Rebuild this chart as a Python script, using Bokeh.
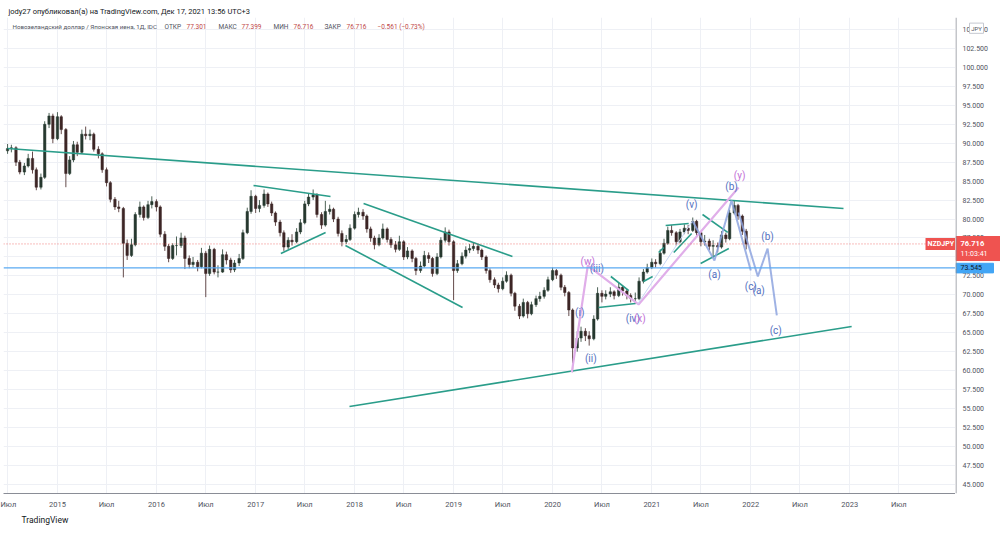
import pandas as pd
from bokeh.plotting import figure
from bokeh.layouts import row
from bokeh.models import Range1d, FixedTicker, Span, Label, ColumnDataSource, Title
from bokeh.core.properties import value
from bokeh.embed import file_html
from bokeh.resources import INLINE

# ---------------- data (semi-monthly candles) ----------------
first_open = 89.0
closes = [
    89.3, 89.4, 87.5, 86.2, 87.0, 88.0, 86.5, 84.2, 85.5, 92.5, 93.6, 90.6,
    93.5, 91.8, 86.0, 87.8, 89.8, 88.8, 91.2, 91.0, 91.2, 89.2, 88.6, 86.5,
    84.8, 82.6, 81.6, 81.4, 76.8, 75.2, 76.6, 80.6, 81.6, 80.2, 81.9, 82.3,
    81.6, 78.0, 76.4, 74.8, 76.5, 76.5, 77.5, 74.8, 74.0, 74.3, 73.7, 75.5,
    72.8, 76.0, 73.0, 73.0, 75.3, 74.6, 73.3, 74.2, 74.8, 78.2, 81.0, 83.0,
    81.4, 81.8, 83.3, 82.0, 80.8, 79.6, 78.2, 76.3, 77.2, 77.0, 78.3, 79.5,
    82.0, 82.9, 83.2, 80.6, 79.2, 81.0, 81.3, 80.0, 78.1, 77.0, 77.3, 78.8,
    80.6, 80.9, 80.4, 78.7, 77.5, 76.6, 77.5, 78.7, 77.3, 76.6, 76.0, 77.0,
    75.0, 75.8, 74.8, 73.2, 73.8, 75.2, 74.8, 72.8, 75.0, 77.2, 78.3, 77.0,
    73.2, 74.1, 75.1, 75.9, 76.1, 76.4, 75.9, 75.0, 73.2, 72.0, 71.3, 70.8,
    71.8, 72.6, 70.2, 68.5, 67.2, 69.0, 67.5, 68.7, 69.5, 69.8, 70.6, 72.0,
    73.2, 72.6, 71.0, 70.3, 68.0, 63.0, 64.3, 65.2, 64.6, 64.2, 66.8, 70.2,
    69.8, 70.1, 70.4, 69.9, 71.0, 70.5, 69.9, 69.5, 69.5, 71.8, 73.0, 73.6,
    74.3, 74.1, 75.5, 76.8, 78.5, 78.2, 77.0, 78.3, 78.8, 78.5, 79.7, 78.2,
    77.0, 77.1, 76.4, 76.5, 76.3, 77.9, 77.4, 80.8, 81.8, 80.4, 78.4, 76.7,
]
highs = [
    89.9, 89.8, 89.6, 87.8, 87.4, 88.6, 88.9, 86.8, 86.0, 92.9, 94.0, 93.9,
    94.1, 93.7, 92.0, 88.3, 90.3, 90.2, 91.8, 92.2, 91.8, 91.4, 89.6, 88.8,
    86.8, 85.0, 82.9, 82.4, 81.6, 77.3, 77.4, 80.9, 82.3, 81.8, 82.4, 83.0,
    82.6, 81.8, 78.4, 76.7, 76.8, 77.7, 78.2, 77.8, 75.2, 75.0, 74.6, 76.2,
    75.8, 76.5, 76.2, 73.9, 76.0, 75.7, 74.9, 74.6, 75.4, 78.6, 81.5, 83.8,
    83.2, 82.5, 83.9, 83.5, 82.3, 81.0, 79.9, 78.5, 77.6, 78.0, 78.8, 80.0,
    82.4, 83.4, 83.9, 83.4, 80.9, 82.4, 81.9, 81.5, 80.3, 78.5, 77.9, 79.3,
    81.0, 81.5, 81.3, 80.6, 79.0, 77.8, 78.0, 79.4, 78.9, 77.6, 77.1, 77.8,
    77.2, 76.3, 76.0, 75.0, 74.4, 75.8, 75.6, 75.0, 75.5, 77.6, 78.9, 78.6,
    77.2, 74.6, 75.6, 76.4, 76.7, 76.9, 76.7, 76.1, 75.2, 73.5, 72.3, 71.6,
    72.3, 73.1, 72.8, 70.4, 68.8, 69.5, 69.2, 69.1, 69.9, 70.4, 71.0, 72.4,
    73.6, 73.4, 72.8, 71.3, 70.5, 68.2, 65.2, 65.8, 65.6, 65.2, 67.3, 71.0,
    70.6, 70.6, 71.0, 70.6, 71.6, 71.3, 70.8, 70.2, 70.3, 72.3, 73.4, 74.1,
    74.8, 74.7, 76.0, 77.4, 79.0, 79.2, 78.4, 78.7, 79.3, 79.2, 80.2, 79.9,
    78.4, 77.9, 77.4, 77.2, 76.9, 78.4, 78.2, 81.2, 82.5, 82.0, 80.6, 78.7,
]
lows = [
    88.6, 88.8, 87.0, 85.9, 85.8, 86.8, 86.0, 83.8, 83.9, 85.3, 92.0, 90.0,
    90.4, 91.2, 84.2, 85.8, 87.5, 88.3, 88.6, 90.5, 90.4, 88.9, 88.0, 86.1,
    84.3, 82.2, 81.2, 80.9, 72.3, 74.6, 75.0, 76.4, 80.2, 79.8, 80.0, 81.4,
    81.0, 77.6, 75.8, 74.3, 74.6, 75.2, 76.2, 73.4, 73.5, 73.6, 73.1, 73.5,
    69.7, 72.5, 72.7, 72.3, 72.9, 74.0, 72.9, 73.0, 73.8, 74.6, 78.0, 80.7,
    80.8, 80.9, 81.5, 81.6, 80.4, 79.1, 77.7, 75.8, 76.0, 76.5, 76.8, 78.0,
    79.3, 81.7, 82.5, 80.2, 78.7, 79.0, 80.6, 79.6, 77.7, 76.4, 76.7, 77.1,
    78.6, 80.2, 79.9, 78.2, 77.0, 76.0, 76.4, 77.3, 76.9, 76.2, 75.6, 75.8,
    74.6, 74.7, 74.3, 72.6, 72.9, 73.6, 74.2, 72.4, 72.6, 74.8, 76.9, 76.5,
    69.3, 72.9, 73.9, 74.8, 75.5, 75.8, 75.4, 74.6, 72.8, 71.6, 70.9, 70.3,
    70.6, 71.6, 69.8, 67.9, 66.8, 67.0, 66.9, 67.3, 68.4, 69.1, 69.5, 70.4,
    71.8, 72.1, 70.6, 69.8, 67.2, 59.8, 62.5, 63.8, 63.9, 63.3, 64.0, 66.6,
    69.0, 69.4, 69.7, 69.4, 69.7, 69.9, 69.4, 69.0, 68.8, 69.3, 71.5, 72.8,
    73.4, 73.6, 73.9, 75.3, 76.6, 77.8, 76.5, 76.8, 78.0, 78.0, 78.3, 77.8,
    76.4, 76.5, 75.9, 74.9, 75.6, 76.1, 76.9, 77.2, 80.6, 79.9, 77.9, 76.0,
]
first_date = "2014-07-01"
last_price = 76.716
last_time = "11:03:41"
level_price = 73.545
price_ticks = [45 + 2.5 * k for k in range(25)]
time_tick_dates = ["2014-07-01", "2015-01-01", "2015-07-01", "2016-01-01", "2016-07-01", "2017-01-01",
                   "2017-07-01", "2018-01-01", "2018-07-01", "2019-01-01", "2019-07-01",
                   "2020-01-01", "2020-07-01", "2021-01-01", "2021-07-01", "2022-01-01",
                   "2022-07-01", "2023-01-01", "2023-07-01"]
time_tick_labels = ["Июл", "2015", "Июл", "2016", "Июл", "2017", "Июл", "2018", "Июл", "2019", "Июл",
                    "2020", "Июл", "2021", "Июл", "2022", "Июл", "2023", "Июл"]

# drawings (date, price pairs)
teal_long_dates = [["2014-07-01", "2022-12-09"], ["2017-12-13", "2023-01-08"]]
teal_long_prices = [[89.3, 81.4], [55.27, 65.83]]
teal_short_dates = [
    ["2016-12-24", "2017-10-04"], ["2017-04-04", "2017-09-16"],
    ["2018-02-03", "2019-08-06"], ["2017-11-28", "2019-02-03"],
    ["2020-08-03", "2020-10-08"], ["2020-06-19", "2020-11-02"],
    ["2020-12-01", "2021-01-04"], ["2021-01-26", "2021-02-14"],
    ["2021-02-21", "2021-05-17"], ["2021-03-23", "2021-05-28"],
    ["2021-07-07", "2021-10-08"], ["2021-06-30", "2021-10-12"],
]
teal_short_prices = [
    [84.43, 82.97], [75.46, 78.23],
    [82.05, 75.06], [76.51, 68.33],
    [72.42, 70.57], [68.33, 68.86],
    [71.76, 72.42], [75.59, 76.25],
    [79.15, 79.41], [75.59, 78.09],
    [80.60, 78.23], [74.14, 76.11],
]
wxy_dates = ["2020-03-12", "2020-05-10", "2020-11-13", "2021-11-17"]
wxy_prices = [59.76, 73.87, 68.73, 84.16]
faint_dates = ["2020-11-09", "2021-06-01"]
faint_prices = [68.73, 79.81]
wave1_dates = ["2021-06-01", "2021-08-20", "2021-10-22", "2022-01-01"]
wave1_prices = [79.68, 74.53, 82.45, 73.21]
wave2_dates = ["2021-11-17", "2022-01-27", "2022-03-04", "2022-04-07"]
wave2_prices = [80.86, 72.42, 76.11, 67.28]

wave_label_text = ["(i)", "(ii)", "(iii)", "(w)", "(iv)", "(x)", "(v)", "(a)", "(b)", "(y)",
                   "(b)", "(c)", "(a)", "(c)"]
wave_label_dates = ["2020-04-10", "2020-05-21", "2020-06-12", "2020-05-10", "2020-10-23",
                    "2020-11-18", "2021-05-28", "2021-08-20", "2021-10-22", "2021-11-21",
                    "2022-03-04", "2022-01-01", "2022-01-30", "2022-04-03"]
wave_label_prices = [67.67, 61.60, 73.48, 74.40, 66.88, 66.88, 81.92, 72.68, 84.29, 85.75,
                     77.70, 71.10, 70.57, 65.30]
wave_label_kind = ["blue", "blue", "blue", "purple", "blue", "purple", "blue", "blue", "blue",
                   "purple", "blue", "blue", "blue", "blue"]

# ---------------- style ----------------
FONT = "Roboto"
BLUE_TXT = "#5470c0"
PURPLE_TXT = "#c26fd6"
TEAL = "#2a9d8a"
GRID = "#eef0f5"
AXIS_TXT = "#50535e"
AXIS_LINE = "#8a8d96"
TOP, BOTTOM = 17, 41

dates = pd.date_range(first_date, periods=len(closes), freq="SMS")
opens = [first_open] + closes[:-1]
up = [c >= o for o, c in zip(opens, closes)]
src = ColumnDataSource(dict(
    x=dates, h=highs, l=lows,
    top=[max(o, c) for o, c in zip(opens, closes)],
    bot=[min(o, c) for o, c in zip(opens, closes)],
    body=["#26382f" if u else "#3d2626" for u in up],
    wick=["#4d6257" if u else "#654c4c" for u in up],
))

yr = Range1d(43.79, 106.59)
p = figure(width=955, height=534, x_axis_type="datetime", y_axis_location=None,
           x_range=Range1d(pd.Timestamp("2014-06-16"), pd.Timestamp("2024-01-26")),
           y_range=yr, output_backend="svg", toolbar_location=None,
           min_border_left=3, min_border_right=0, min_border_top=TOP, min_border_bottom=BOTTOM)
p.background_fill_color = "white"
p.border_fill_color = "white"
p.outline_line_color = None

p.title.text = "jody27 опубликовал(а) на TradingView.com, Дек 17, 2021 13:56 UTC+3"
p.title.text_font = FONT
p.title.text_font_size = "7.5px"
p.title.text_font_style = "normal"
p.title.text_color = "#131722"
p.title.offset = 5
p.title.standoff = 3

tick_ms = [pd.Timestamp(d).value / 1e6 for d in time_tick_dates]
p.xaxis.ticker = FixedTicker(ticks=tick_ms)
p.xaxis.major_label_overrides = {t: lab for t, lab in zip(tick_ms, time_tick_labels)}
p.xgrid.ticker = FixedTicker(ticks=tick_ms)
p.ygrid.ticker = FixedTicker(ticks=price_ticks)
p.xaxis.axis_line_color = AXIS_LINE
p.xaxis.major_tick_line_color = None
p.xaxis.minor_tick_line_color = None
p.xaxis.major_tick_out = 0
p.xaxis.major_tick_in = 0
p.xaxis.major_label_text_font = FONT
p.xaxis.major_label_text_font_size = "7.5px"
p.xaxis.major_label_text_color = AXIS_TXT
p.xaxis.major_label_standoff = 6
p.grid.grid_line_color = GRID

footer = Title(text="TradingView", text_font=FONT, text_font_size="8.5px",
               text_font_style="normal", text_color="#131722", offset=18, standoff=2)
p.add_layout(footer, "below")

p.add_layout(Span(location=level_price, dimension="width", line_color="#5aaaf2", line_width=1.3))
p.add_layout(Span(location=last_price, dimension="width", line_color="#ef5350",
                  line_dash="1 2", line_alpha=0.75, line_width=1))

p.segment(x0="x", y0="h", x1="x", y1="l", line_color="wick", line_width=1, source=src)
p.vbar(x="x", width=9 * 24 * 3600 * 1000, top="top", bottom="bot",
       fill_color="body", line_color="body", line_width=0.5, source=src)

to_ts = lambda lst: [pd.Timestamp(d) for d in lst]
p.multi_line(xs=[to_ts(d) for d in teal_long_dates], ys=teal_long_prices,
             line_color=TEAL, line_width=1.6)
p.multi_line(xs=[to_ts(d) for d in teal_short_dates], ys=teal_short_prices,
             line_color=TEAL, line_width=1.6)
p.line(to_ts(wxy_dates), wxy_prices, line_color="#e0aee9", line_width=2.2)
p.line(to_ts(faint_dates), faint_prices, line_color="#c9d5f3", line_width=1)
p.line(to_ts(wave1_dates), wave1_prices, line_color="#8ea5df", line_width=2, line_alpha=0.85)
p.line(to_ts(wave2_dates), wave2_prices, line_color="#8ea5df", line_width=2, line_alpha=0.85)

lab_src = ColumnDataSource(dict(
    x=to_ts(wave_label_dates), y=wave_label_prices, t=wave_label_text,
    col=[BLUE_TXT if k == "blue" else PURPLE_TXT for k in wave_label_kind]))
p.text(x="x", y="y", text="t", text_color="col", source=lab_src,
       text_font=value(FONT), text_font_size="10px", text_align="center",
       text_baseline="middle")

FH = 534 - TOP - BOTTOM


def lab(text, x, y, size="6.5px", color="#131722", y_units="screen", **kw):
    p.add_layout(Label(x=x, y=y, x_units="screen", y_units=y_units, text=text,
                       text_font=FONT, text_font_size=size, text_color=color,
                       text_baseline="middle", **kw))


hdr_gray = "#50535e"
hdr_red = "#c04848"
hy = FH - 9
lab("Новозеландский доллар / Японская иена, 1Д, IDC", 9, hy, size="6.2px", color=hdr_gray)
lab("ОТКР", 161, hy, color=hdr_gray)
lab("77.301", 183, hy, color=hdr_red)
lab("МАКС", 215, hy, color=hdr_gray)
lab("77.399", 238, hy, color=hdr_red)
lab("МИН", 270, hy, color=hdr_gray)
lab("76.716", 290, hy, color=hdr_red)
lab("ЗАКР", 321, hy, color=hdr_gray)
lab("76.716", 343, hy, color=hdr_red)
lab("−0.561 (−0.73%)", 374, hy, color=hdr_red)
lab("NZDJPY", 922, last_price, size="7px", color="white", y_units="data",
    background_fill_color="#ef5350", padding=2, text_font_style="bold")

# ---------------- price scale strip ----------------
s = figure(width=45, height=534, x_range=Range1d(0, 45), y_range=yr,
           x_axis_location=None, y_axis_location=None, output_backend="svg",
           toolbar_location=None, min_border_left=0, min_border_right=0,
           min_border_top=TOP, min_border_bottom=BOTTOM)
s.grid.visible = False
s.outline_line_color = None
s.background_fill_color = "white"
s.border_fill_color = "white"
s.add_layout(Span(location=0.5, dimension="height", line_color=AXIS_LINE, line_width=1))
s.text(x=[7] * len(price_ticks), y=price_ticks, text=[f"{v:.3f}" for v in price_ticks],
       text_font=value(FONT), text_font_size="7px", text_color=AXIS_TXT,
       text_baseline="middle", text_align="left")
# last price tag
s.quad(left=[0.5], right=[45], top=[last_price + 0.98], bottom=[last_price - 2.19],
       fill_color="#ef5350", line_color="#ef5350")
s.text(x=[5], y=[last_price + 0.05], text=[f"{last_price:.3f}"], text_font=value(FONT),
       text_font_size="7.5px", text_font_style="bold", text_color="white",
       text_baseline="middle")
s.text(x=[5], y=[last_price - 1.3], text=[last_time], text_font=value(FONT),
       text_font_size="7px", text_color="white", text_baseline="middle")
# horizontal level tag
s.quad(left=[0.5], right=[38], top=[level_price + 0.62], bottom=[level_price - 0.65],
       fill_color="#42a5f5", line_color="#42a5f5")
s.text(x=[5], y=[level_price], text=[f"{level_price:.3f}"], text_font=value(FONT),
       text_font_size="7px", text_color="#131722", text_baseline="middle")
# currency box
s.quad(left=[14], right=[28], top=[105.85], bottom=[104.5],
       fill_color="white", line_color="#c5c8d0")
s.text(x=[21], y=[105.17], text=["JPY"], text_font=value(FONT), text_font_size="6px",
       text_color=AXIS_TXT, text_baseline="middle", text_align="center")

layout = row(p, s, spacing=0)
open("out.html", "w").write(file_html(layout, INLINE))
